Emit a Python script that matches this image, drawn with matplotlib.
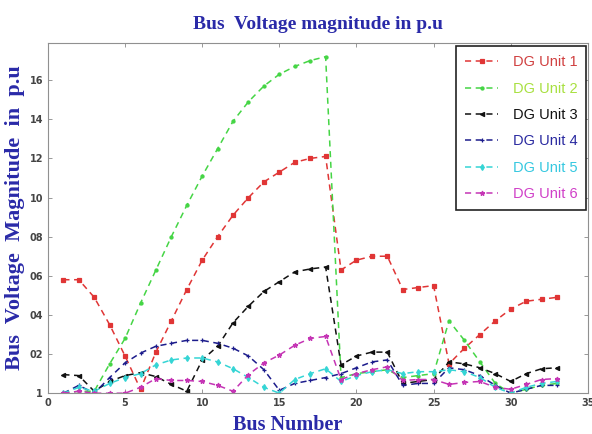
import matplotlib
matplotlib.use('Agg')
import matplotlib.pyplot as plt
import numpy as np

# bus numbers of the 33 bus feeder
bus = np.arange(1, 34)

dg1 = [1.058, 1.058, 1.049, 1.035, 1.019, 1.002, 1.021, 1.037, 1.053, 1.068,
       1.080, 1.091, 1.100, 1.108, 1.113, 1.118, 1.120, 1.121, 1.063, 1.068,
       1.070, 1.070, 1.053, 1.054, 1.055, 1.015, 1.023, 1.030, 1.037, 1.043,
       1.047, 1.048, 1.049]
dg2 = [1.000, 1.001, 1.001, 1.015, 1.028, 1.046, 1.063, 1.080, 1.096, 1.111,
       1.125, 1.139, 1.149, 1.157, 1.163, 1.167, 1.170, 1.172, 1.008, 1.010,
       1.011, 1.012, 1.008, 1.009, 1.010, 1.037, 1.027, 1.016, 1.005, 1.000,
       1.002, 1.004, 1.005]
dg3 = [1.0095, 1.009, 1.001, 1.006, 1.009, 1.0105, 1.0085, 1.0045, 1.001, 1.017,
       1.024, 1.036, 1.0445, 1.052, 1.057, 1.062, 1.0635, 1.0645, 1.0145, 1.019,
       1.021, 1.021, 1.005, 1.006, 1.007, 1.016, 1.015, 1.013, 1.010, 1.006,
       1.010, 1.0125, 1.013]
dg4 = [1.000, 1.004, 1.000, 1.008, 1.0155, 1.0205, 1.024, 1.0255, 1.027, 1.027,
       1.0255, 1.023, 1.019, 1.012, 1.0015, 1.005, 1.0065, 1.008, 1.010, 1.013,
       1.016, 1.017, 1.004, 1.005, 1.005, 1.013, 1.012, 1.009, 1.004, 1.000,
       1.002, 1.004, 1.004]
dg5 = [1.000, 1.003, 1.001, 1.005, 1.008, 1.010, 1.0145, 1.017, 1.018, 1.018,
       1.016, 1.0125, 1.008, 1.003, 1.000, 1.007, 1.010, 1.0125, 1.006, 1.009,
       1.011, 1.012, 1.010, 1.011, 1.011, 1.012, 1.011, 1.008, 1.003, 1.000,
       1.003, 1.005, 1.006]
dg6 = [1.000, 1.001, 1.000, 1.000, 1.000, 1.003, 1.0075, 1.0065, 1.0065, 1.006,
       1.004, 1.001, 1.0095, 1.0155, 1.0195, 1.0245, 1.028, 1.029, 1.007, 1.010,
       1.012, 1.0135, 1.0065, 1.007, 1.007, 1.0045, 1.0055, 1.006, 1.003, 1.002,
       1.0045, 1.007, 1.0075]

labels = ['DG Unit 1', 'DG Unit 2', 'DG Unit 3', 'DG Unit 4', 'DG Unit 5', 'DG Unit 6']
colors = ['#e03535', '#45d545', '#111111', '#1c1c8c', '#35d5d5', '#c535b5']
text_colors = ['#d04040', '#a8e040', '#111111', '#2a2aa0', '#35c8e0', '#d040c8']
markers = ['s', 'o', '<', '+', 'd', '*']
msizes = [2.8, 2.2, 3.0, 3.5, 3.0, 3.5]

yticks = [1.0, 1.02, 1.04, 1.06, 1.08, 1.10, 1.12, 1.14, 1.16]
ytick_labels = ['1', '02', '04', '06', '08', '10', '12', '14', '16']
xticks = [0, 5, 10, 15, 20, 25, 30, 35]

blue_txt = '#2a2aa8'

fig = plt.figure(figsize=(5.92, 4.34), dpi=100)
ax = fig.add_axes([0.081, 0.094, 0.912, 0.807])

for vals, c, m, ms, lab in zip([dg1, dg2, dg3, dg4, dg5, dg6], colors, markers, msizes, labels):
    ax.plot(bus, vals, linestyle='--', dashes=(4, 3), color=c, linewidth=1.1,
            marker=m, markersize=ms, markerfacecolor=c, markeredgecolor=c,
            markeredgewidth=0.9, label=lab)

ax.set_xlim(0, 35)
ax.set_ylim(1.0, 1.179)
ax.set_xticks(xticks)
ax.set_yticks(yticks)
ax.set_yticklabels(ytick_labels)
ax.tick_params(direction='in', top=True, right=True, length=3, width=0.6,
               labelsize=7, labelcolor='#444444', colors='#888888')
for t in ax.get_xticklabels() + ax.get_yticklabels():
    t.set_fontweight('bold')
    t.set_color('#444444')
for s in ax.spines.values():
    s.set_color('#909090')
    s.set_linewidth(0.8)

ax.set_title('Bus  Voltage magnitude in p.u', fontsize=14, fontweight='bold',
             family='Liberation Serif', color=blue_txt, pad=10)
ax.set_xlabel('Bus Number', fontsize=14.5, fontweight='bold',
              family='Liberation Serif', color=blue_txt)
ax.xaxis.set_label_coords(0.444, -0.062)
ax.set_ylabel('Bus  Voltage  Magnitude  in  p.u', fontsize=16, fontweight='bold',
              family='Liberation Serif', color=blue_txt, labelpad=3)

leg = ax.legend(loc='upper right', bbox_to_anchor=(0.997, 0.99), borderaxespad=0,
                prop={'family': 'Liberation Sans', 'size': 10.5},
                handlelength=2.3, handletextpad=1.0, labelspacing=0.85,
                borderpad=0.6, fancybox=False, framealpha=1)
leg.get_frame().set_edgecolor('#222222')
leg.get_frame().set_linewidth(1.2)
for t, c in zip(leg.get_texts(), text_colors):
    t.set_color(c)

fig.savefig('out.png', dpi=100)
